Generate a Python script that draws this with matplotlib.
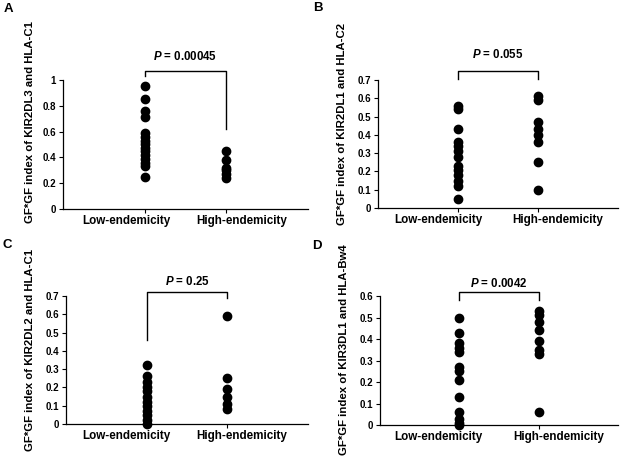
import numpy as np
import matplotlib
matplotlib.use("Agg")
import matplotlib.pyplot as plt

plt.rcParams['font.family'] = ['Liberation Sans', 'DejaVu Sans']
plt.rcParams['font.weight'] = 'bold'
plt.rcParams['mathtext.fontset'] = 'custom'
plt.rcParams['mathtext.it'] = 'Liberation Sans:italic:bold'
plt.rcParams['mathtext.rm'] = 'Liberation Sans:bold'

categories = ["Low-endemicity", "High-endemicity"]

# panel A: KIR2DL3 / HLA-C1
a_low = [0.95, 0.85, 0.76, 0.71, 0.59, 0.56, 0.53, 0.50, 0.47, 0.45, 0.42, 0.39, 0.36, 0.33, 0.25]
a_high = [0.45, 0.38, 0.32, 0.30, 0.27, 0.24]
# panel B: KIR2DL1 / HLA-C2
b_low = [0.56, 0.54, 0.43, 0.36, 0.34, 0.31, 0.28, 0.23, 0.21, 0.18, 0.15, 0.12, 0.05]
b_high = [0.61, 0.59, 0.47, 0.43, 0.40, 0.36, 0.25, 0.10]
# panel C: KIR2DL2 / HLA-C1
c_low = [0.32, 0.26, 0.23, 0.20, 0.18, 0.15, 0.12, 0.10, 0.07, 0.05, 0.02, 0.0]
c_high = [0.59, 0.25, 0.19, 0.15, 0.11, 0.08]
# panel D: KIR3DL1 / HLA-Bw4
d_low = [0.50, 0.43, 0.38, 0.36, 0.34, 0.27, 0.25, 0.21, 0.13, 0.06, 0.03, 0.01, 0.0]
d_high = [0.53, 0.51, 0.48, 0.44, 0.39, 0.35, 0.33, 0.06]

W, H = 625, 461
fig = plt.figure(figsize=(W / 100, H / 100), dpi=100)


def px_axes(l, r, t, b):
    return fig.add_axes([l / W, 1 - b / H, (r - l) / W, (b - t) / H])


panels = [
    dict(box=(63, 308, 80, 209), low=a_low, high=a_high, ymax=1.0, step=0.2,
         p="0.00045", top=1.07, dl=1.03, dr=0.62, ty=1.18, cat_px=(126, 242),
         ylab="GF*GF index of KIR2DL3 and HLA-C1", lab_xy=(30, 122),
         letter="A", let_xy=(8, 9)),
    dict(box=(378, 618, 80, 208), low=b_low, high=b_high, ymax=0.7, step=0.1,
         p="0.055", top=0.75, dl=0.705, dr=0.705, ty=0.84, cat_px=(438, 558),
         ylab="GF*GF index of KIR2DL1 and HLA-C2", lab_xy=(342, 124),
         letter="B", let_xy=(318, 8)),
    dict(box=(66, 308, 296, 424), low=c_low, high=c_high, ymax=0.7, step=0.1,
         p="0.25", top=0.72, dl=0.46, dr=0.69, ty=0.78, cat_px=(126, 242),
         ylab="GF*GF index of KIR2DL2 and HLA-C1", lab_xy=(30, 350),
         letter="C", let_xy=(7, 245)),
    dict(box=(380, 618, 296, 425), low=d_low, high=d_high, ymax=0.6, step=0.1,
         p="0.0042", top=0.62, dl=0.58, dr=0.58, ty=0.66, cat_px=(438, 559),
         ylab="GF*GF index of KIR3DL1 and HLA-Bw4", lab_xy=(344, 350),
         letter="D", let_xy=(317, 246)),
]

for pn in panels:
    l, r, t, b = pn["box"]
    ax = px_axes(l, r, t, b)
    ax.plot([1] * len(pn["low"]), pn["low"], "o", color="black", ms=6, clip_on=False)
    ax.plot([2] * len(pn["high"]), pn["high"], "o", color="black", ms=6, clip_on=False)
    ax.set_xlim(0, 3)
    ax.set_ylim(0, pn["ymax"])
    ticks = np.round(np.arange(0, pn["ymax"] + 1e-9, pn["step"]), 2)
    ax.set_yticks(ticks)
    ax.set_yticklabels(["%g" % v for v in ticks], fontsize=7, fontweight="bold")
    ax.set_xticks([1, 2])
    ax.set_xticklabels([])
    ax.tick_params(axis="both", length=3, width=0.8, direction="out", pad=2)
    for s in ["top", "right"]:
        ax.spines[s].set_visible(False)
    for s in ["left", "bottom"]:
        ax.spines[s].set_linewidth(0.9)
    # category labels (Excel-style, not centred on the ticks)
    for name, cx in zip(categories, pn["cat_px"]):
        fig.text(cx / W, 1 - (b + 12) / H, name, ha="center", va="center",
                 fontsize=8.4, fontweight="bold")
    # significance bracket
    ax.plot([1, 1, 2, 2], [pn["dl"], pn["top"], pn["top"], pn["dr"]],
            color="black", lw=1.0, clip_on=False)
    ax.text(1.5, pn["ty"], r"$\mathit{P}$ = " + pn["p"], ha="center", va="center",
            fontsize=8.3, fontweight="bold", clip_on=False)
    fig.text(pn["lab_xy"][0] / W, 1 - pn["lab_xy"][1] / H, pn["ylab"],
             rotation=90, ha="center", va="center", fontsize=8.2, fontweight="bold")
    fig.text(pn["let_xy"][0] / W, 1 - pn["let_xy"][1] / H, pn["letter"],
             ha="center", va="center", fontsize=9.5, fontweight="bold")

fig.savefig("out.png", dpi=100)
